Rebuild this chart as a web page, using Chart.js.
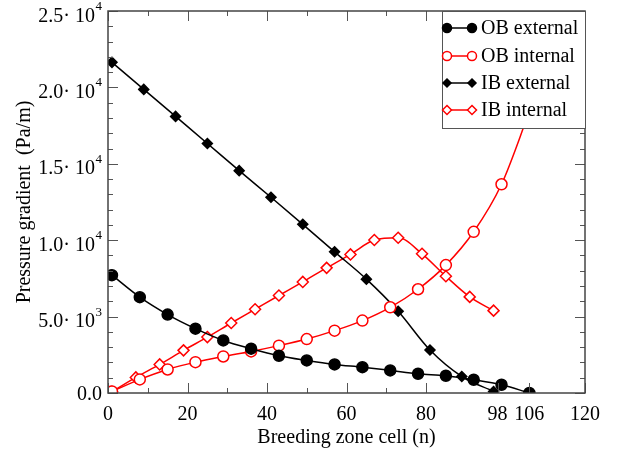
<!DOCTYPE html>
<html>
<head>
<meta charset="utf-8">
<script src="https://cdn.jsdelivr.net/npm/chart.js@4.4.1/dist/chart.umd.min.js"></script>
<style>
  html, body { margin: 0; padding: 0; background: #fff; }
  canvas { display: block; }
</style>
</head>
<body>
<canvas id="lineCanvas" width="622" height="454"></canvas>
<script>
// cells (n) for each series
const xOB = [1, 8, 15, 22, 29, 36, 43, 50, 57, 64, 71, 78, 85, 92, 99, 106];
const xIBext = [1, 9, 17, 25, 33, 41, 49, 57, 65, 73, 81, 89, 97];
const xIBint = [1, 7, 13, 19, 25, 31, 37, 43, 49, 55, 61, 67, 73, 79, 85, 91, 97];

// pressure gradient (Pa/m)
const obExternal = [7710, 6270, 5130, 4210, 3440, 2900, 2440, 2130, 1870, 1690, 1480, 1260, 1130, 870, 540, 0];
const obInternal = [100, 890, 1540, 2020, 2390, 2720, 3100, 3530, 4080, 4740, 5610, 6790, 8370, 10550, 13660, 18400];
const ibExternal = [21640, 19870, 18100, 16330, 14550, 12810, 11040, 9240, 7450, 5350, 2810, 1080, 100];
const ibInternal = [80, 1020, 1870, 2790, 3660, 4580, 5480, 6380, 7270, 8190, 9070, 10010, 10160, 9110, 7640, 6290, 5390];

const seriesNames = ["OB external", "OB internal", "IB external", "IB internal"];

// axis ticks
const xMajor = [0, 20, 40, 60, 80, 98, 106, 120];
const xMinor = [10, 30, 50, 70];
const yMajor = [0, 5000, 10000, 15000, 20000, 25000];
const yMant = ["0.0", "5.0", "1.0", "1.5", "2.0", "2.5"];
const yExp = [null, "3", "4", "4", "4", "4"];

const serif = '"Liberation Serif", "Times New Roman", serif';

function pts(xs, ys) {
    return xs.map((x, i) => ({ x: x, y: ys[i] }));
}

const styles = [
    { color: "#000", fill: "#000", shape: "circle", r: 5.5 },
    { color: "#f00", fill: "#fff", shape: "circle", r: 5.5 },
    { color: "#000", fill: "#000", shape: "rectRot", r: 5 },
    { color: "#f00", fill: "#fff", shape: "rectRot", r: 5.5 }
];

function marker(ctx, st, x, y, r) {
    ctx.beginPath();
    if (st.shape == "circle") {
        ctx.arc(x, y, r, 0, Math.PI * 2);
    } else {
        ctx.moveTo(x, y - r);
        ctx.lineTo(x + r, y);
        ctx.lineTo(x, y + r);
        ctx.lineTo(x - r, y);
        ctx.closePath();
    }
    ctx.fillStyle = st.fill;
    ctx.fill();
    ctx.strokeStyle = st.color;
    ctx.lineWidth = 1.5;
    ctx.stroke();
}

const framePlugin = {
    id: "frame",
    afterDraw(chart) {
        const ctx = chart.ctx;
        const a = chart.chartArea;
        const xs = chart.scales.x, ys = chart.scales.y;
        ctx.save();

        // ticks, inside on all four sides
        ctx.strokeStyle = "#555";
        ctx.lineWidth = 1;
        ctx.beginPath();
        xMajor.concat(xMinor).forEach(v => {
            const len = xMajor.includes(v) ? 10 : 5;
            const px = Math.round(xs.getPixelForValue(v)) + 0.5;
            ctx.moveTo(px, a.bottom); ctx.lineTo(px, a.bottom - len);
            ctx.moveTo(px, a.top); ctx.lineTo(px, a.top + len);
        });
        for (let v = 0; v <= 25000; v += 1000) {
            const len = v % 5000 == 0 ? 10 : 5;
            const py = Math.round(ys.getPixelForValue(v)) + 0.5;
            ctx.moveTo(a.left, py); ctx.lineTo(a.left + len, py);
            ctx.moveTo(a.right, py); ctx.lineTo(a.right - len, py);
        }
        ctx.stroke();

        // frame
        ctx.strokeStyle = "#444";
        ctx.lineWidth = 1.5;
        ctx.strokeRect(a.left, a.top, a.right - a.left, a.bottom - a.top);

        // x tick labels
        ctx.fillStyle = "#000";
        ctx.font = "20px " + serif;
        ctx.textAlign = "center";
        ctx.textBaseline = "alphabetic";
        xMajor.forEach(v => ctx.fillText(String(v), xs.getPixelForValue(v), 420));

        // y tick labels with powers of ten
        ctx.textAlign = "right";
        yMajor.forEach((v, i) => {
            const py = ys.getPixelForValue(v);
            if (yExp[i] == null) {
                ctx.font = "20px " + serif;
                ctx.fillText(yMant[i], 102, py + 6.5);
            } else {
                ctx.font = "13px " + serif;
                const w = ctx.measureText(yExp[i]).width;
                ctx.fillText(yExp[i], 102, py - 1);
                ctx.font = "20px " + serif;
                ctx.fillText(yMant[i] + "\u00b7 10", 101.5 - w, py + 10.5);
            }
        });

        // axis titles
        ctx.font = "20px " + serif;
        ctx.textAlign = "center";
        ctx.fillText("Breeding zone cell (n)", (a.left + a.right) / 2, 443);
        ctx.save();
        ctx.translate(30, (a.top + a.bottom) / 2);
        ctx.rotate(-Math.PI / 2);
        ctx.fillText("Pressure gradient  (Pa/m)", 0, 0);
        ctx.restore();

        // legend box
        const lx = 442, ly = a.top, lw = a.right - 442, lh = 128 - a.top;
        ctx.fillStyle = "#fff";
        ctx.fillRect(lx, ly, lw, lh);
        ctx.strokeStyle = "#555";
        ctx.lineWidth = 1;
        ctx.strokeRect(lx + 0.5, ly + 0.5, lw, lh);
        const rows = [28, 56, 83, 110];
        seriesNames.forEach((name, i) => {
            const st = styles[i];
            const y = rows[i];
            ctx.strokeStyle = st.color;
            ctx.lineWidth = 1.5;
            ctx.beginPath();
            ctx.moveTo(447, y); ctx.lineTo(472, y);
            ctx.stroke();
            marker(ctx, st, 447, y, st.r - 1);
            marker(ctx, st, 472, y, st.r - 1);
            ctx.fillStyle = "#000";
            ctx.font = "20px " + serif;
            ctx.textAlign = "left";
            ctx.textBaseline = "middle";
            ctx.fillText(name, 481, y + 1);
        });
        ctx.restore();
    }
};

function dataset(i, data) {
    const st = styles[i];
    return {
        label: seriesNames[i],
        data: data,
        borderColor: st.color,
        borderWidth: 1.5,
        backgroundColor: st.fill,
        pointStyle: st.shape,
        pointRadius: st.r,
        pointBorderWidth: 1.5,
        pointBorderColor: st.color,
        pointBackgroundColor: st.fill,
        cubicInterpolationMode: "monotone",
        fill: false
    };
}

const lineCanvas = document.getElementById("lineCanvas");
const lineChart = new Chart(lineCanvas, {
    type: "line",
    data: {
        datasets: [
            dataset(0, pts(xOB, obExternal)),
            dataset(1, pts(xOB, obInternal)),
            dataset(2, pts(xIBext, ibExternal)),
            dataset(3, pts(xIBint, ibInternal))
        ]
    },
    options: {
        responsive: false,
        animation: false,
        devicePixelRatio: 1,
        layout: { padding: { left: 108, right: 37, top: 11, bottom: 61 } },
        scales: {
            x: { type: "linear", min: 0, max: 120, display: false },
            y: { type: "linear", min: 0, max: 25000, display: false }
        },
        plugins: {
            legend: { display: false },
            tooltip: { enabled: false }
        }
    },
    plugins: [framePlugin]
});
</script>
</body>
</html>
